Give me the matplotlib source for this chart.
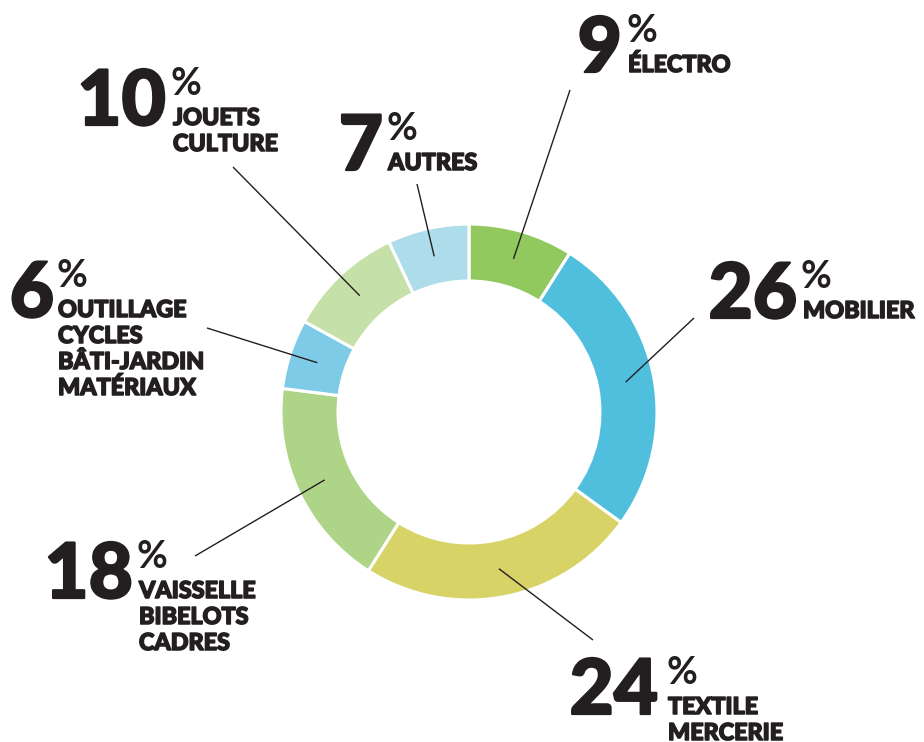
import matplotlib
matplotlib.use("Agg")
import matplotlib.pyplot as plt
import matplotlib.patheffects as pe
import numpy as np

# --- data (clockwise from the top) ---
categories = ["électro", "mobilier", "textile", "vaisselle", "outillage", "jouets", "autres"]
shares = [9, 26, 24, 18, 6, 10, 7]
label_lines = [
    ["ÉLECTRO"],
    ["MOBILIER"],
    ["TEXTILE", "MERCERIE"],
    ["VAISSELLE", "BIBELOTS", "CADRES"],
    ["OUTILLAGE", "CYCLES", "BÂTI-JARDIN", "MATÉRIAUX"],
    ["JOUETS", "CULTURE"],
    ["AUTRES"],
]
colors = ["#92C95E", "#4FBFDD", "#D7D366", "#AED488", "#7DCBE6", "#C6E0AA", "#ADDCEB"]

# --- layout, in pixels from the top left ---
W, H = 924, 742
CX, CY = 469, 412
R_OUT, R_IN = 188, 131
# number right edge, baseline, label left, leader end
layout = [
    (622, 72, 628, (570, 90)),
    (797, 318, 803, (694, 318)),
    (658, 714, 668, (593, 640)),
    (133, 598, 139, (195, 556)),
    (54, 317, 58, (207, 328)),
    (166, 125, 173, (233, 167)),
    (383, 170, 388, (417, 184)),
]
LINE_GAP = 26
INK = "#231F20"
FONT = ["Lato", "DejaVu Sans"]
heavy = [pe.withStroke(linewidth=1.1, foreground=INK)]
heavier = [pe.withStroke(linewidth=1.6, foreground=INK)]


def Y(py):
    return H - py


fig = plt.figure(figsize=(W / 100, H / 100), dpi=100)
ax = fig.add_axes([0, 0, 1, 1])

wedges, _ = ax.pie(shares, colors=colors, startangle=90, counterclock=False,
                   center=(CX, Y(CY)), radius=R_OUT,
                   wedgeprops=dict(width=R_OUT - R_IN, edgecolor="white", linewidth=2.2))

ax.set_xlim(0, W)
ax.set_ylim(0, H)
ax.set_aspect("equal")
ax.axis("off")

r_mid = (R_OUT + R_IN) / 2
for w, val, lines, (nx, base, lx, end) in zip(wedges, shares, label_lines, layout):
    ang = np.deg2rad((w.theta1 + w.theta2) / 2)
    sx = CX + r_mid * np.cos(ang)
    sy = Y(CY) + r_mid * np.sin(ang)
    ax.plot([sx, end[0]], [sy, Y(end[1])], color=INK, lw=1.0, solid_capstyle="butt")

    ax.text(nx, Y(base), str(val), ha="right", va="baseline", fontsize=55,
            fontweight="black", color=INK, family=FONT, path_effects=heavier)
    ax.text(lx - 2, Y(base - 58), "%", ha="left", va="top", fontsize=27,
            fontweight="bold", color=INK, family=FONT)
    for i, line in enumerate(lines):
        ax.text(lx, Y(base + i * LINE_GAP), line, ha="left", va="baseline",
                fontsize=16.8, fontweight="black", color=INK, family=FONT,
                path_effects=heavy)

fig.savefig("out.png", dpi=100, facecolor="white")
